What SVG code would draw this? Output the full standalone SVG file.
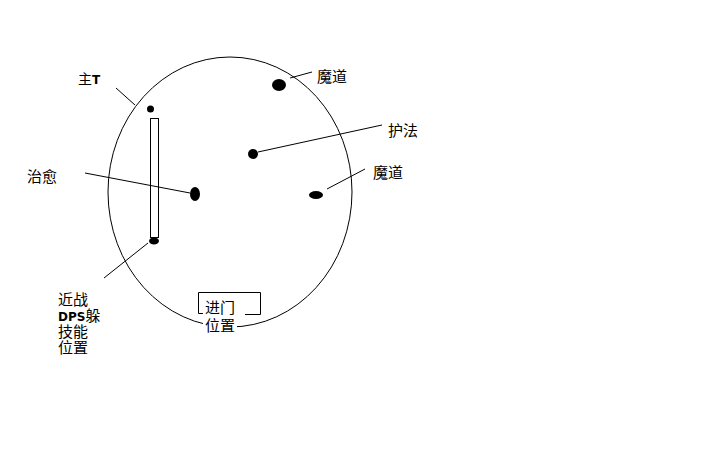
<svg xmlns="http://www.w3.org/2000/svg" width="720" height="450" viewBox="0 0 720 450">
<style>
.t{font-family:"Liberation Sans","Noto Sans CJK SC",sans-serif;font-size:15px;fill:#000}
.b{font-weight:bold;font-family:"DejaVu Sans","Noto Sans CJK SC",sans-serif;font-size:12px}
.l{stroke:#000;stroke-width:1;fill:none}
.d{fill:#000}
</style>
<rect width="720" height="450" fill="#fff"/>
<g id="arena"><ellipse cx="230" cy="192" rx="122" ry="135" class="l"/></g>
<g id="wall"><rect x="150.5" y="118.5" width="8" height="119" fill="#fff" stroke="#000"/></g>
<g id="entrance">
<path class="l" d="M204 313.5 H198.5 V292.5 H260.5 V314.5 H245"/>
<rect x="203" y="298" width="34" height="36" fill="#fff"/>
<text class="t" x="205" y="313">进门</text>
<text class="t" x="205" y="331">位置</text>
</g>
<g id="connectors">
<line class="l" x1="116" y1="88" x2="135" y2="105"/>
<line class="l" x1="85" y1="173" x2="190" y2="193"/>
<line class="l" x1="104" y1="278" x2="148" y2="243"/>
<line class="l" x1="290" y1="78" x2="312" y2="72"/>
<line class="l" x1="258" y1="152" x2="382" y2="125"/>
<line class="l" x1="327" y1="189" x2="365" y2="169"/>
</g>
<g id="tank"><circle class="d" cx="150.5" cy="109" r="3.5"/><text class="t" x="78" y="84" style="font-size:14px">主<tspan class="b">T</tspan></text></g>
<g id="melee"><ellipse class="d" cx="154" cy="241" rx="5" ry="3.5"/>
<text class="t" x="58" y="305">近战</text>
<text class="t" x="58" y="321"><tspan class="b">DPS</tspan>躲</text>
<text class="t" x="58" y="337">技能</text>
<text class="t" x="58" y="353">位置</text></g>
<g id="healer"><ellipse class="d" cx="195" cy="194" rx="5" ry="7"/><text class="t" x="27" y="182">治愈</text></g>
<g id="mage1"><ellipse class="d" cx="279" cy="85" rx="7" ry="6"/><text class="t" x="317" y="82">魔道</text></g>
<g id="guard"><ellipse class="d" cx="253" cy="154" rx="5" ry="5"/><text class="t" x="388" y="136">护法</text></g>
<g id="mage2"><ellipse class="d" cx="316" cy="195" rx="7" ry="4"/><text class="t" x="373" y="178">魔道</text></g>
</svg>
